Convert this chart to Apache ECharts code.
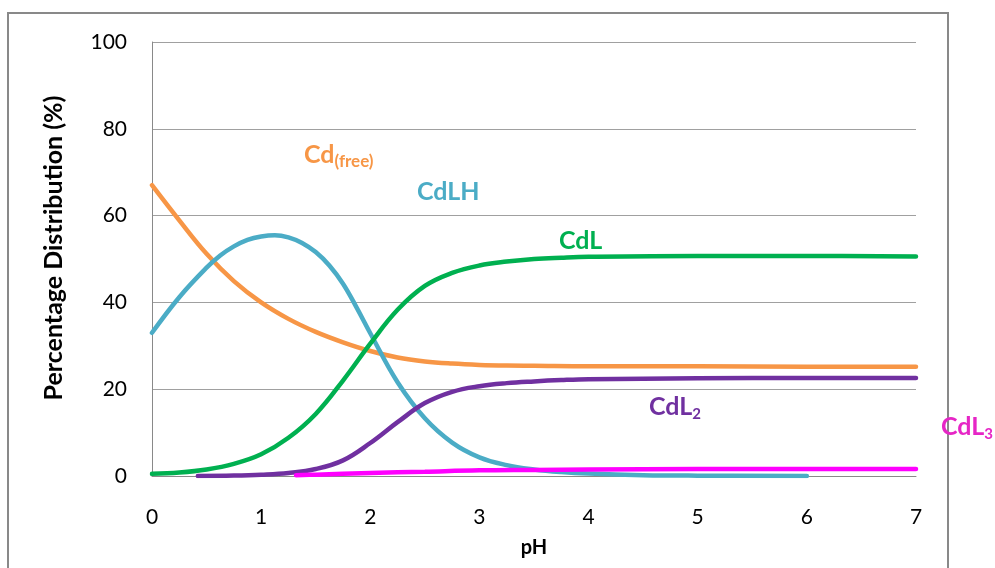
<!DOCTYPE html>
<html>
<head>
<meta charset="utf-8">
<script src="https://cdn.jsdelivr.net/npm/echarts@6/dist/echarts.min.js"></script>
<style>html,body{margin:0;padding:0;background:#fff}#c{width:995px;height:568px}</style>
</head>
<body>
<div id="c"></div>
<script>
// pH positions and percentage values per species
const pHFree = [0, 0.25, 0.5, 0.75, 1.0, 1.25, 1.5, 1.75, 2.0, 2.25, 2.5, 2.75, 3.0, 3.25, 3.5, 4, 5, 6, 7];
const cdFree = [67.0, 58.9, 51.2, 44.9, 40.0, 36.2, 33.2, 30.8, 28.8, 27.3, 26.4, 25.9, 25.6, 25.45, 25.4, 25.3, 25.3, 25.2, 25.2];

const pHLH = [0, 0.25, 0.5, 0.625, 0.75, 0.875, 1.0, 1.125, 1.25, 1.375, 1.5, 1.625, 1.75, 1.875, 2.0, 2.25, 2.5, 2.75, 3.0, 3.25, 3.5, 3.75, 4.0, 4.5, 5, 6];
const cdLH = [33.0, 41.2, 48.0, 50.8, 52.9, 54.4, 55.2, 55.5, 55.0, 53.7, 51.6, 48.5, 44.3, 38.8, 32.9, 21.6, 13.3, 7.7, 4.3, 2.5, 1.5, 0.9, 0.55, 0.2, 0.08, 0];

const pHL = [0, 0.25, 0.5, 0.75, 1.0, 1.25, 1.5, 1.75, 2.0, 2.25, 2.5, 2.75, 3.0, 3.25, 3.5, 3.75, 4, 5, 6, 7];
const cdL = [0.5, 0.8, 1.5, 2.8, 5.0, 8.8, 14.3, 22.0, 30.5, 38.3, 43.8, 46.8, 48.5, 49.4, 50.0, 50.3, 50.5, 50.7, 50.7, 50.6];

const pHL2 = [0.42, 0.75, 1.0, 1.25, 1.5, 1.75, 2.0, 2.25, 2.5, 2.75, 3.0, 3.25, 3.5, 3.75, 4, 5, 6, 7];
const cdL2 = [0, 0.1, 0.3, 0.7, 1.6, 3.6, 7.6, 12.4, 16.8, 19.4, 20.7, 21.4, 21.8, 22.1, 22.3, 22.5, 22.6, 22.6];

const pHL3 = [1.32, 1.5, 2.0, 2.5, 3.0, 3.5, 4, 5, 6, 7];
const cdL3 = [0.2, 0.3, 0.7, 1.0, 1.3, 1.4, 1.5, 1.6, 1.6, 1.6];

const xTicks = [0, 1, 2, 3, 4, 5, 6, 7];
const yTicks = [0, 20, 40, 60, 80, 100];

const zip = (xs, ys) => xs.map((x, i) => [x, ys[i]]);
const FONT = 'Lato';

const chart = echarts.init(document.getElementById('c'), null, {renderer: 'canvas'});
function line(name, xs, ys, color) {
  return {
    name, type: 'line', data: zip(xs, ys), smooth: 0.4, showSymbol: false, symbol: 'none',
    lineStyle: {color, width: 4.5, cap: 'round'}, itemStyle: {color}, z: 3
  };
}
function lbl(x, y, main, sub, color, subSize) {
  return {
    type: 'text', x, y, z: 10,
    style: {
      text: sub ? '{a|' + main + '}{b|' + sub + '}' : '{a|' + main + '}',
      verticalAlign: 'middle', align: 'left',
      rich: {
        a: {fontFamily: FONT, fontWeight: 'bold', fontSize: 25, lineHeight: 30, fill: color},
        b: {fontFamily: FONT, fontWeight: 'bold', fontSize: subSize || 15, lineHeight: 18, fill: color, verticalAlign: 'bottom'}
      }
    }
  };
}
chart.setOption({
  animation: false,
  backgroundColor: '#fff',
  grid: {left: 152, right: 79, top: 42, bottom: 92},
  xAxis: {
    type: 'value', min: 0, max: 7, interval: 1,
    name: 'pH', nameLocation: 'middle', nameGap: 62,
    nameTextStyle: {fontFamily: FONT, fontWeight: 'bold', fontSize: 20, color: '#000'},
    axisLine: {show: true, lineStyle: {color: '#898989', width: 1}},
    axisTick: {show: false},
    axisLabel: {fontFamily: FONT, fontSize: 21, color: '#000', margin: 31},
    splitLine: {show: false}
  },
  yAxis: {
    type: 'value', min: 0, max: 100, interval: 20,
    axisLine: {show: true, lineStyle: {color: '#898989', width: 1}},
    axisTick: {show: false},
    axisLabel: {fontFamily: FONT, fontSize: 21, color: '#000', margin: 25},
    splitLine: {show: true, lineStyle: {color: '#a0a0a0', width: 1}}
  },
  series: [
    line('Cd(free)', pHFree, cdFree, '#F79646'),
    line('CdLH', pHLH, cdLH, '#4BACC6'),
    line('CdL', pHL, cdL, '#00B050'),
    line('CdL2', pHL2, cdL2, '#7030A0'),
    line('CdL3', pHL3, cdL3, '#FF00FF')
  ],
  graphic: [
    {type: 'rect', shape: {x: 8, y: 13, width: 940, height: 600}, style: {fill: 'none', stroke: '#898989', lineWidth: 2}, z: 0, silent: true},
    {type: 'text', x: 54, y: 248, rotation: Math.PI / 2, z: 10,
     style: {text: 'Percentage Distribution (%)', fontFamily: FONT, fontWeight: 'bold', fontSize: 25, fill: '#000', align: 'center', verticalAlign: 'middle'}},
    lbl(304, 155, 'Cd', '(free)', '#F79646', 17),
    lbl(417, 192, 'CdLH', null, '#4BACC6'),
    lbl(559, 241, 'CdL', null, '#00B050'),
    lbl(649, 407, 'CdL', '2', '#7030A0'),
    lbl(941, 427, 'CdL', '3', '#E626C6')
  ]
});
</script>
</body>
</html>
